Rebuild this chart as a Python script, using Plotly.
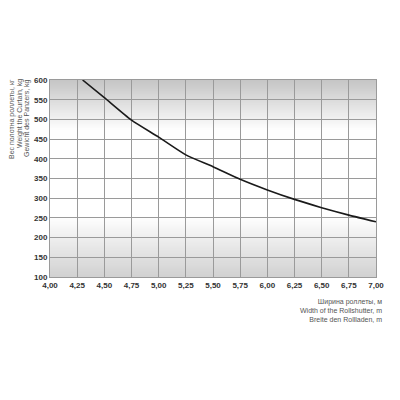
import plotly.graph_objects as go

# ширина роллеты (м) и вес полотна (кг)
width_m = [4.30, 4.50, 4.75, 5.00, 5.25, 5.50, 5.75, 6.00, 6.25, 6.50, 6.75, 7.00]
weight_kg = [600, 555, 498, 455, 410, 380, 348, 321, 297, 276, 257, 240]

x_ticks = [4.00, 4.25, 4.50, 4.75, 5.00, 5.25, 5.50, 5.75, 6.00, 6.25, 6.50, 6.75, 7.00]
x_labels = ["4,00", "4,25", "4,50", "4,75", "5,00", "5,25", "5,50", "5,75", "6,00", "6,25", "6,50", "6,75", "7,00"]
y_ticks = [100, 150, 200, 250, 300, 350, 400, 450, 500, 550, 600]

y_title = ["Вес полотна роллеты, кг", "Weight the Curtain, kg", "Gewicht des Panzers, kg"]
x_title = "Ширина роллеты, м<br>Width of the Rollshutter, m<br>Breite den Rollladen, m"

fig = go.Figure()

# градиентный фон: серый сверху и снизу, белый в середине
# прямоугольники накладываются друг на друга, чтобы не было швов
shapes = []
n = 40
for i in range(n):
    # верхняя полоса: от 470 (белый) до 600 (серый)
    y_edge = 470 + i * 130 / n
    g = int(255 - 57 * i / (n - 1))
    shapes.append(dict(type="rect", xref="paper", yref="y", x0=0, x1=1, y0=y_edge, y1=600,
                       fillcolor=f"rgb({g},{g},{g})", line_width=0, layer="below"))
for i in range(n):
    # нижняя полоса: от 255 (белый) до 100 (серый)
    y_edge = 255 - i * 155 / n
    g = int(255 - 45 * i / (n - 1))
    shapes.append(dict(type="rect", xref="paper", yref="y", x0=0, x1=1, y0=100, y1=y_edge,
                       fillcolor=f"rgb({g},{g},{g})", line_width=0, layer="below"))

fig.add_trace(go.Scatter(
    x=width_m, y=weight_kg, mode="lines",
    line=dict(color="#1a1a1a", width=1.6, shape="spline", smoothing=0.6),
    showlegend=False, hoverinfo="skip"
))

annotations = []
for k, txt in enumerate(y_title):
    annotations.append(dict(
        text=txt, xref="paper", yref="paper", x=0, y=1.0,
        xanchor="center", yanchor="top", xshift=-38 + 7.5 * k, yshift=3,
        textangle=-90, showarrow=False, font=dict(size=7, color="#555")))
annotations.append(dict(
    text=x_title, xref="paper", yref="paper", x=1.0, y=-0.094,
    xanchor="right", yanchor="top", xshift=8, align="right", showarrow=False,
    font=dict(size=7, color="#555")))

fig.update_layout(
    width=384, height=384,
    margin=dict(l=42, r=8, t=72, b=115),
    paper_bgcolor="white", plot_bgcolor="white",
    shapes=shapes,
    annotations=annotations,
    font=dict(family="Liberation Sans, Arial, sans-serif", color="#333"),
    xaxis=dict(
        range=[4.0, 7.0], tickvals=x_ticks, ticktext=x_labels,
        showgrid=True, gridcolor="#9a9a9a", gridwidth=1,
        showline=True, linecolor="#9a9a9a", mirror=True, zeroline=False,
        ticks="", ticklabeloverflow="allow",
        tickfont=dict(size=8, weight="bold", color="#333"),
    ),
    yaxis=dict(
        range=[100, 600], tickvals=y_ticks,
        showgrid=True, gridcolor="#9a9a9a", gridwidth=1,
        showline=True, linecolor="#9a9a9a", mirror=True, zeroline=False,
        ticks="", tickfont=dict(size=8, weight="bold", color="#333"),
    ),
)

fig.write_html("out.html")
